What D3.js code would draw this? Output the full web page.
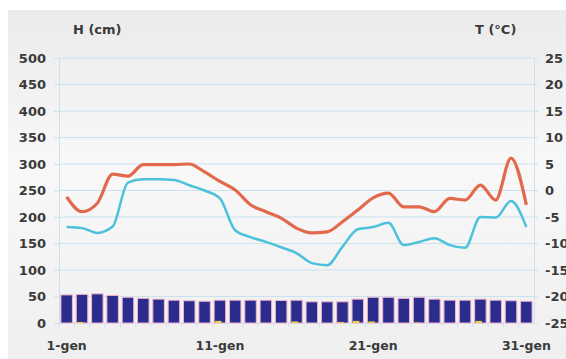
<!DOCTYPE html>
<html><head><meta charset="utf-8">
<script src="https://cdn.jsdelivr.net/npm/d3@7"></script>
<style>html,body{margin:0;padding:0;background:#fff;}svg{display:block;}</style>
</head><body>
<svg id="c" width="566" height="359"></svg>
<script>
const days = d3.range(1, 32).map(d => d + "-gen");
const shownTicks = ["1-gen", "11-gen", "21-gen", "31-gen"];
const snowHeight = [53,54,55,52,48.5,46.5,45,43,42,41,43,43,43,43,42.5,43,40,40,40,45,48.5,48.5,46.5,48.5,45,43,43,45,43,42,41];
const newSnow = [0,2,0,0,0,0,0,0,0,0,4,0,0,0,0,3,0,0,2,4,3,0,0,1,0,0,0,4,0,0,0];
const tMax = [-1.2,-4.0,-2.4,3.1,2.7,4.9,4.9,4.9,5.0,3.5,1.7,0.1,-2.7,-4.0,-5.2,-7.1,-8.0,-7.8,-5.9,-3.7,-1.4,-0.5,-3.1,-3.1,-4.0,-1.5,-1.8,1.0,-1.8,6.1,-2.7];
const tMin = [-6.9,-7.1,-8.0,-6.8,1.5,2.1,2.1,2.0,1.0,0.0,-1.5,-7.5,-8.8,-9.7,-10.7,-11.8,-13.7,-14.1,-10.6,-7.3,-6.9,-6.1,-10.3,-9.7,-9.0,-10.3,-10.8,-5.0,-5.1,-2.0,-6.9];
const hTicks = d3.range(0, 501, 50);
const tTicks = d3.range(-25, 26, 5);

const svg = d3.select("#c");
const L = 59, R = 534, T = 58, B = 323;
const font = "'DejaVu Sans', sans-serif";

const defs = svg.append("defs");
const g = defs.append("linearGradient").attr("id","bg").attr("x1",0).attr("y1",0).attr("x2",0).attr("y2",1);
g.append("stop").attr("offset","0%").attr("stop-color","#ebebeb");
g.append("stop").attr("offset","45%").attr("stop-color","#f8f8f8");
g.append("stop").attr("offset","100%").attr("stop-color","#efefef");
svg.append("rect").attr("x",8).attr("y",10).attr("width",558).attr("height",349).attr("fill","url(#bg)");

const x = d3.scaleBand().domain(days).range([L, R]).paddingInner(0.25).paddingOuter(0.125);
const xc = d => x(d) + x.bandwidth()/2;
const yH = d3.scaleLinear().domain([0, 500]).range([B, T]);
const yT = d3.scaleLinear().domain([-25, 25]).range([B, T]);

const grid = "#c9e2ee";
svg.append("g").selectAll("line").data(hTicks).join("line")
  .attr("x1", L).attr("x2", R).attr("y1", d => yH(d)).attr("y2", d => yH(d))
  .attr("stroke", grid).attr("stroke-width", 1);

const axL = svg.append("g").attr("transform", `translate(${L},0)`)
  .call(d3.axisLeft(yH).tickValues(hTicks).tickSize(5).tickPadding(8));
const axR = svg.append("g").attr("transform", `translate(${R},0)`)
  .call(d3.axisRight(yT).tickValues(tTicks).tickFormat(d => String(d)).tickSize(4).tickPadding(7));
const axB = svg.append("g").attr("transform", `translate(0,${B})`)
  .call(d3.axisBottom(x).tickValues(shownTicks).tickSize(0).tickPadding(18));
// boundary ticks below baseline
svg.append("g").selectAll("line").data(days).join("line")
  .attr("x1", d => x(d) - x.step()*x.paddingInner()/2).attr("x2", d => x(d) - x.step()*x.paddingInner()/2)
  .attr("y1", B).attr("y2", B + 4).attr("stroke", grid);

[axL, axR, axB].forEach(a => {
  a.selectAll(".domain").attr("stroke", grid);
  a.selectAll(".tick line").attr("stroke", grid);
  a.selectAll("text").attr("fill", "#3a3a3a").attr("font-family", font)
    .attr("font-weight", "bold").attr("font-size", "13px");
});
axB.select(".domain").remove();
axB.selectAll("text").attr("font-size", "12.5px");

// bars
svg.append("g").selectAll("rect").data(days).join("rect")
  .attr("x", d => x(d)).attr("width", x.bandwidth())
  .attr("y", (d, i) => yH(snowHeight[i])).attr("height", (d, i) => yH(0) - yH(snowHeight[i]))
  .attr("fill", "#2b2d8e").attr("stroke", "#f2b2cc").attr("stroke-width", 1);
svg.append("g").selectAll("rect").data(days).join("rect")
  .attr("x", d => x(d) + 1).attr("width", x.bandwidth()*0.55)
  .attr("y", (d, i) => yH(newSnow[i])).attr("height", (d, i) => yH(0) - yH(newSnow[i]))
  .attr("fill", "#e6d34a");

// lines
const line = arr => d3.line().x((d, i) => xc(days[i])).y(d => yT(d)).curve(d3.curveMonotoneX)(arr);
svg.append("path").attr("d", line(tMin)).attr("fill", "none").attr("stroke", "#4cc1dc").attr("stroke-width", 2.5);
svg.append("path").attr("d", line(tMax)).attr("fill", "none").attr("stroke", "#e2694b").attr("stroke-width", 3.2);

svg.append("text").attr("x", 73).attr("y", 34).text("H (cm)")
  .attr("font-family", font).attr("font-weight", "bold").attr("font-size", "13px").attr("fill", "#3a3a3a");
svg.append("text").attr("x", 475).attr("y", 34).text("T (°C)")
  .attr("font-family", font).attr("font-weight", "bold").attr("font-size", "13px").attr("fill", "#3a3a3a");
</script>
</body></html>
